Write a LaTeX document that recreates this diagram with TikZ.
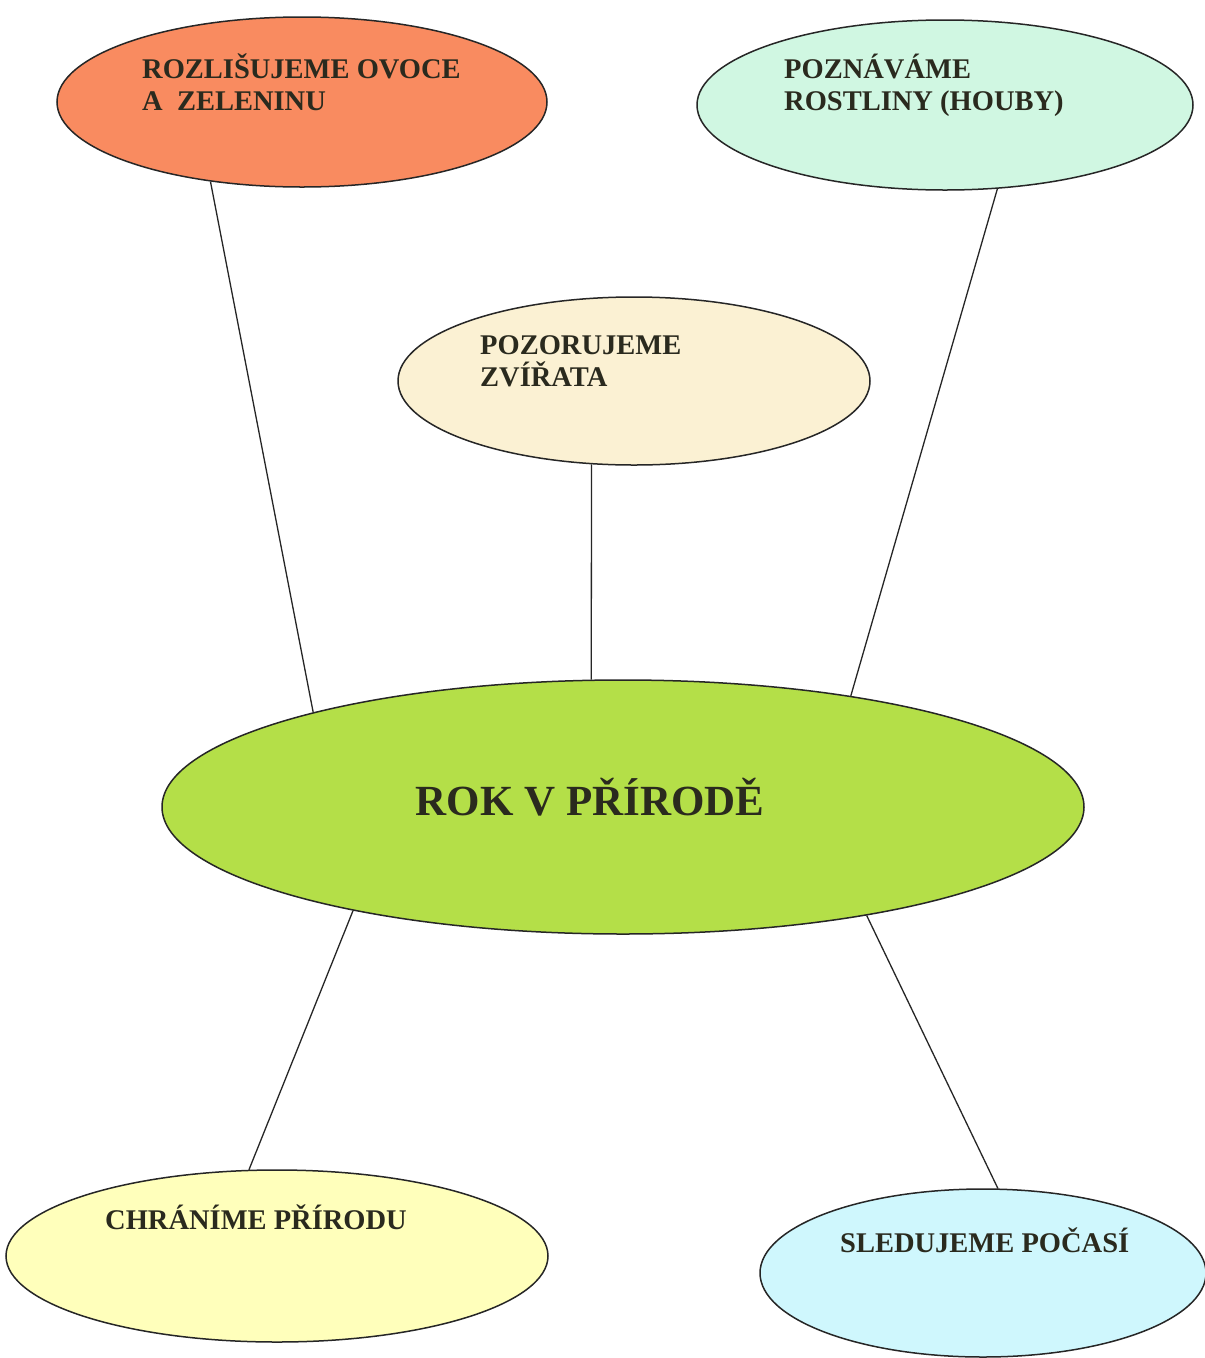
\documentclass[tikz,border=0pt]{standalone}
\usepackage{fontspec}
\setmainfont{Liberation Serif}
\usetikzlibrary{shapes.geometric}
\definecolor{cOrange}{HTML}{F98B60}
\definecolor{cMint}{HTML}{D0F7E2}
\definecolor{cCream}{HTML}{FBF1D3}
\definecolor{cGreen}{HTML}{B4DF48}
\definecolor{cYellow}{HTML}{FFFFBB}
\definecolor{cBlue}{HTML}{CFF7FD}
\definecolor{cText}{HTML}{2A2A1E}
\begin{document}
\begin{tikzpicture}[x=1pt,y=-1pt,
  bubble/.style={ellipse, draw=black!85, line width=1.5pt, inner sep=0pt},
  conn/.style={draw=black!85, line width=1.3pt},
  lbl/.style={font=\bfseries\fontsize{28.5}{32}\selectfont, text=cText, align=left, anchor=base west, inner sep=0pt},
  biglbl/.style={font=\bfseries\fontsize{43}{48}\selectfont, text=cText, anchor=base, inner sep=0pt}]
\fill[white] (0,0) rectangle (1205,1358);
\useasboundingbox (0,0) rectangle (1205,1358);
\begin{scope}
\clip (0,0) rectangle (1205,1358);
\node[bubble, fill=cOrange, minimum width=490pt, minimum height=170pt] (orange) at (302,102) {};
\node[bubble, fill=cMint, minimum width=496pt, minimum height=170pt] (mint) at (945,105) {};
\node[bubble, fill=cCream, minimum width=472pt, minimum height=168pt] (cream) at (634,381) {};
\node[bubble, fill=cGreen, minimum width=922pt, minimum height=254pt] (green) at (623,807) {};
\node[bubble, fill=cYellow, minimum width=542pt, minimum height=172pt] (yellow) at (277,1256) {};
\node[bubble, fill=cBlue, minimum width=446pt, minimum height=168pt] (blue) at (983,1273) {};
\end{scope}
\draw[conn] (orange.221) -- (green.163.5);
\draw[conn] (mint.-58.5) -- (green.26.5);
\draw[conn] (cream.-117) -- (green.104);
\draw[conn] (green.201.9) -- (yellow.108.6);
\draw[conn] (green.-24.2) -- (blue.80.7);
\node[lbl] (t1) at (142,110) {ROZLIŠUJEME OVOCE\\A~~ZELENINU};
\node[lbl] (t2) at (784,110) {POZNÁVÁME\\ROSTLINY (HOUBY)};
\node[lbl] (t3) at (480,386) {POZORUJEME\\ZVÍŘATA};
\node[biglbl] (t4) at (590,815) {ROK V PŘÍRODĚ};
\node[lbl] (t5) at (105,1229) {CHRÁNÍME PŘÍRODU};
\node[lbl] (t6) at (840,1252) {SLEDUJEME POČASÍ};
\end{tikzpicture}
\end{document}
